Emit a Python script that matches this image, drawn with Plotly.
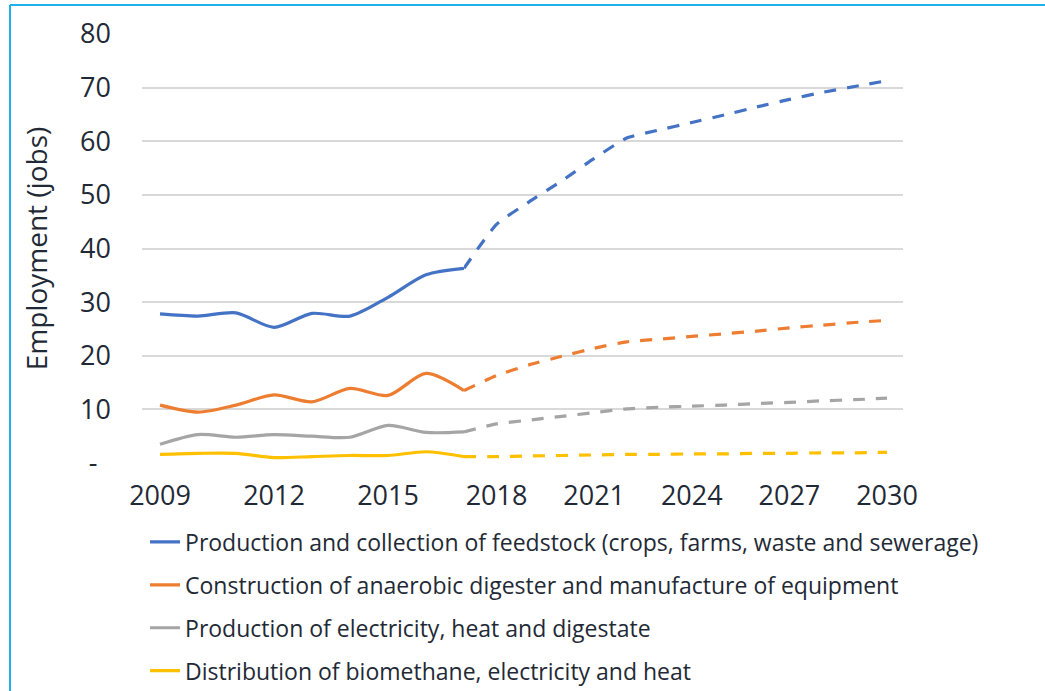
import plotly.graph_objects as go

# Observed employment, 2009-2017
years_hist = [2009, 2010, 2011, 2012, 2013, 2014, 2015, 2016, 2017]
feedstock_hist = [27.8, 27.4, 28.0, 25.3, 27.9, 27.4, 30.9, 35.1, 36.3]
construction_hist = [10.8, 9.5, 10.8, 12.7, 11.4, 13.9, 12.6, 16.7, 13.5]
electricity_hist = [3.5, 5.3, 4.8, 5.3, 5.0, 4.8, 7.0, 5.7, 5.8]
distribution_hist = [1.6, 1.8, 1.8, 1.0, 1.2, 1.4, 1.4, 2.1, 1.2]

# Projected employment, 2017-2030
years_proj = [2017, 2018, 2019, 2020, 2021, 2022, 2023, 2024, 2025, 2026, 2027, 2028, 2029, 2030]
feedstock_proj = [36.3, 44.5, 48.7, 52.6, 56.8, 60.6, 62.1, 63.5, 64.9, 66.4, 67.8, 69.1, 70.2, 71.3]
construction_proj = [13.5, 16.3, 18.3, 19.9, 21.4, 22.6, 23.1, 23.6, 24.1, 24.6, 25.2, 25.7, 26.2, 26.6]
electricity_proj = [5.8, 7.3, 8.0, 8.7, 9.4, 10.1, 10.4, 10.6, 10.8, 11.1, 11.3, 11.6, 11.8, 12.1]
distribution_proj = [1.2, 1.2, 1.3, 1.4, 1.5, 1.6, 1.6, 1.7, 1.7, 1.8, 1.8, 1.9, 1.9, 2.0]

series_names = [
    "Production and collection of feedstock (crops, farms, waste and sewerage)",
    "Construction of anaerobic digester and manufacture of equipment",
    "Production of electricity, heat and digestate",
    "Distribution of biomethane, electricity and heat",
]
series_colors = ["#4472C4", "#ED7D31", "#A5A5A5", "#FFC000"]
hist_values = [feedstock_hist, construction_hist, electricity_hist, distribution_hist]
proj_values = [feedstock_proj, construction_proj, electricity_proj, distribution_proj]

y_ticks = [0, 10, 20, 30, 40, 50, 60, 70, 80]
y_ticktext = ["-\u2002", "10", "20", "30", "40", "50", "60", "70", "80"]
x_ticks_hist = [2009, 2012, 2015]
x_ticks_proj = [2018, 2021, 2024, 2027, 2030]

FONT = "Open Sans"
TEXT = "#1f2a36"
W, H = 1045, 691
ML, MR, MT, MB = 142, 142, 34, 228
PW, PH = W - ML - MR, H - MT - MB
split = (464 - ML) / PW


def px_x(px):
    return (px - ML) / PW


def px_y(py):
    return (H - MB - py) / PH


fig = go.Figure()
for i, name in enumerate(series_names):
    fig.add_trace(go.Scatter(
        x=years_hist, y=hist_values[i], name=name, mode="lines",
        line=dict(color=series_colors[i], width=3.2, shape="spline", smoothing=0.8),
        legendgroup=f"g{i}", xaxis="x", yaxis="y", hoverinfo="x+y",
    ))
    fig.add_trace(go.Scatter(
        x=years_proj, y=proj_values[i], name=name, mode="lines",
        line=dict(color=series_colors[i], width=3.2, dash="12px,11px",
                  shape="spline", smoothing=0.5),
        legendgroup=f"g{i}", showlegend=False, xaxis="x2", yaxis="y",
        hoverinfo="x+y",
    ))

tickfont = dict(family=FONT, size=27, color=TEXT)
xcommon = dict(tickfont=tickfont, showgrid=False, zeroline=False, showline=False,
               ticks="", ticklabelstandoff=14, anchor="y", automargin=False)
fig.update_layout(
    width=W, height=H,
    margin=dict(l=ML, r=MR, t=MT, b=MB, autoexpand=False),
    paper_bgcolor="white", plot_bgcolor="white",
    font=dict(family=FONT, color=TEXT),
    xaxis=dict(domain=[0, split], range=[2008.526, 2017],
               tickvals=x_ticks_hist, **xcommon),
    xaxis2=dict(domain=[split, 1], range=[2017, 2030.49],
                tickvals=x_ticks_proj, **xcommon),
    yaxis=dict(range=[0, 80], tickvals=y_ticks, ticktext=y_ticktext,
               tickfont=tickfont, showgrid=True, gridcolor="#d9d9d9",
               gridwidth=1.5, zeroline=False, showline=False, ticks="",
               ticklabelstandoff=30, automargin=False,
               title=dict(text="Employment (jobs)", standoff=24,
                          font=dict(family=FONT, size=28, color=TEXT))),
    legend=dict(x=0.004, xanchor="left", y=-0.134, yanchor="top",
                orientation="v", tracegroupgap=10, bgcolor="rgba(0,0,0,0)",
                font=dict(family=FONT, size=23, color=TEXT),
                itemwidth=30),
    showlegend=True,
    shapes=[
        dict(type="line", xref="paper", yref="paper",
             x0=px_x(10), x1=px_x(10), y0=px_y(H + 10), y1=px_y(5),
             line=dict(color="#20b0ec", width=2), layer="below"),
        dict(type="line", xref="paper", yref="paper",
             x0=px_x(10), x1=px_x(W + 10), y0=px_y(5), y1=px_y(5),
             line=dict(color="#20b0ec", width=2), layer="below"),
    ],
)

fig.write_html("out.html")
